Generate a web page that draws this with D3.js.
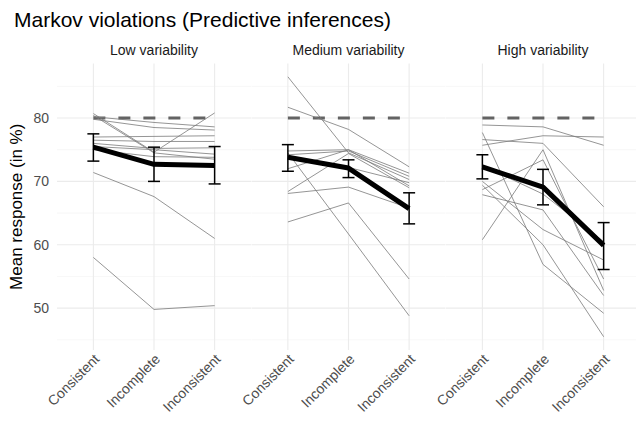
<!DOCTYPE html>
<html><head><meta charset="utf-8">
<script src="https://cdn.jsdelivr.net/npm/d3@7"></script>
<style>body{margin:0;background:#fff}svg{display:block}text{font-family:"Liberation Sans",Arial,sans-serif}</style>
</head><body>
<script>
const panels = ["Low variability", "Medium variability", "High variability"];
const conditions = ["Consistent", "Incomplete", "Inconsistent"];
const yTicks = [50, 60, 70, 80];
const yMinor = [45, 55, 65, 75, 85];
const reference = 80;

// individual participant lines per panel (values at Consistent, Incomplete, Inconsistent)
const lowLines = [
  [80.7, 74.6, 80.8], [80.4, 74.5, 73.5], [80.2, 79.3, 78.6], [79.8, 78.5, 78.1],
  [77.0, 77.1, 77.2], [76.5, 76.3, 76.3], [76.0, 75.2, 75.3], [75.5, 75.0, 74.3],
  [75.0, 73.9, 73.8], [71.4, 67.6, 61.0], [58.0, 49.8, 50.4]
];
const mediumLines = [
  [86.5, 74.5, 70.3], [81.7, 78.2, 72.3], [74.8, 75.0, 71.3], [74.5, 61.7, 48.8],
  [74.2, 74.8, 70.8], [73.8, 72.2, 69.8], [72.0, 75.0, 69.3], [68.4, 74.4, 69.0],
  [68.1, 69.1, 65.8], [63.6, 66.6, 54.6]
];
const highLines = [
  [78.9, 78.6, 75.7], [77.7, 56.9, 49.2], [76.6, 76.0, 66.0], [75.7, 77.2, 77.0],
  [72.5, 68.0, 60.5], [70.0, 62.4, 57.6], [69.4, 60.0, 45.5], [68.7, 73.4, 54.6],
  [67.9, 65.5, 52.0], [60.8, 75.0, 52.8]
];
// mean and error-bar bounds per panel
const meanLow = [75.4, 72.7, 72.5], loLow = [73.2, 70.0, 69.6], hiLow = [77.5, 75.4, 75.5];
const meanMed = [73.8, 72.1, 65.7], loMed = [71.6, 70.6, 63.3], hiMed = [75.8, 73.4, 68.2];
const meanHigh = [72.3, 69.1, 59.9], loHigh = [70.4, 66.3, 56.1], hiHigh = [74.2, 71.9, 63.5];

const panelData = [
  {name: panels[0], lines: lowLines, mean: meanLow, lo: loLow, hi: hiLow},
  {name: panels[1], lines: mediumLines, mean: meanMed, lo: loMed, hi: hiMed},
  {name: panels[2], lines: highLines, mean: meanHigh, lo: loHigh, hi: hiHigh}
];

const W = 636, H = 421;
const svg = d3.select("body").append("svg").attr("width", W).attr("height", H);

const panelLeft = 57, panelW = 194, gap = 0.5, pTop = 63.5, pBottom = 350;
const y = d3.scaleLinear().domain([43.4, 88.6]).range([pBottom, pTop]);

svg.append("text").attr("x", 14).attr("y", 27).attr("font-size", 21).attr("fill", "#000")
  .text("Markov violations (Predictive inferences)");

svg.append("text").attr("transform", `translate(22,${(pTop + pBottom) / 2}) rotate(-90)`)
  .attr("text-anchor", "middle").attr("font-size", 17).attr("fill", "#000")
  .text("Mean response (in %)");

// y tick labels
svg.append("g").selectAll("text").data(yTicks).join("text")
  .attr("x", 49).attr("y", d => y(d)).attr("dy", "0.35em").attr("text-anchor", "end")
  .attr("font-size", 14).attr("fill", "#4d4d4d").text(d => d);

panelData.forEach((p, i) => {
  const x0 = panelLeft + i * (panelW + gap);
  const x = d3.scalePoint().domain(conditions).range([x0, x0 + panelW]).padding(0.6);
  const g = svg.append("g");
  // grid
  g.selectAll(".minor").data(yMinor).join("line")
    .attr("x1", x0).attr("x2", x0 + panelW).attr("y1", d => y(d)).attr("y2", d => y(d))
    .attr("stroke", "#f2f2f2").attr("stroke-width", 0.6);
  g.selectAll(".major").data(yTicks).join("line")
    .attr("x1", x0).attr("x2", x0 + panelW).attr("y1", d => y(d)).attr("y2", d => y(d))
    .attr("stroke", "#ebebeb").attr("stroke-width", 1.1);
  g.selectAll(".vmajor").data(conditions).join("line")
    .attr("x1", d => x(d)).attr("x2", d => x(d)).attr("y1", pTop).attr("y2", pBottom)
    .attr("stroke", "#ebebeb").attr("stroke-width", 1.1);
  // strip
  g.append("text").attr("x", x0 + panelW / 2).attr("y", 55).attr("text-anchor", "middle")
    .attr("font-size", 14).attr("fill", "#1a1a1a").text(p.name);
  // x labels
  g.selectAll(".xl").data(conditions).join("text")
    .attr("transform", d => `translate(${x(d) + 7},${pBottom + 10}) rotate(-45)`)
    .attr("text-anchor", "end").attr("font-size", 14).attr("fill", "#4d4d4d").text(d => d);
  // reference dashed line
  g.append("line").attr("x1", x(conditions[0])).attr("x2", x(conditions[2]))
    .attr("y1", y(reference)).attr("y2", y(reference))
    .attr("stroke", "#636363").attr("stroke-width", 3).attr("stroke-dasharray", "12,13");
  // participant lines
  const line = d3.line().x((d, j) => x(conditions[j])).y(d => y(d));
  g.selectAll(".pl").data(p.lines).join("path")
    .attr("d", line).attr("fill", "none").attr("stroke", "#7a7a7a").attr("stroke-width", 0.8);
  // mean line
  g.append("path").attr("d", line(p.mean)).attr("fill", "none")
    .attr("stroke", "#000").attr("stroke-width", 5).attr("stroke-linejoin", "round");
  // error bars
  conditions.forEach((c, j) => {
    const cx = x(c);
    const eb = g.append("g").attr("stroke", "#000").attr("stroke-width", 1.5);
    eb.append("line").attr("x1", cx).attr("x2", cx).attr("y1", y(p.lo[j])).attr("y2", y(p.hi[j]));
    eb.append("line").attr("x1", cx - 6).attr("x2", cx + 6).attr("y1", y(p.lo[j])).attr("y2", y(p.lo[j]));
    eb.append("line").attr("x1", cx - 6).attr("x2", cx + 6).attr("y1", y(p.hi[j])).attr("y2", y(p.hi[j]));
  });
});
</script>
</body></html>
